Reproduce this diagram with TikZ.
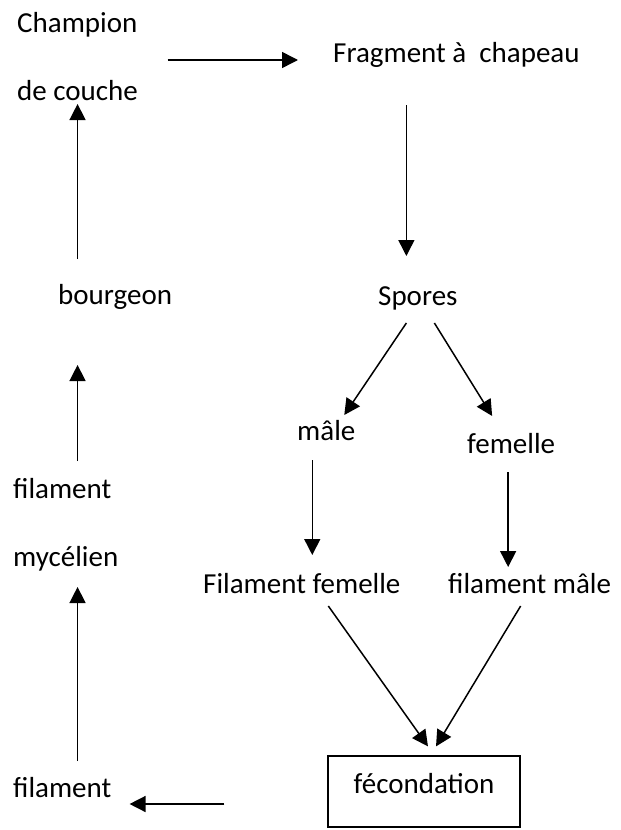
\documentclass[tikz,border=0pt]{standalone}
\usepackage{fontspec}
\setmainfont{Carlito}
\usepackage{tikz}
\usetikzlibrary{arrows.meta,positioning,calc}

\begin{document}
\begin{tikzpicture}[x=1pt,y=-1pt,
  mot/.style={inner sep=0pt,anchor=base west,font=\fontsize{29}{34}\selectfont},
  fleche/.style={line width=1.5pt,-{Triangle[length=16pt,width=16pt]}}]
\useasboundingbox (0,0) rectangle (621,830);
% colonne de gauche
\node[mot] (champion) at (17,32) {Champion};
\node[mot] (couche) at (17,100) {de couche};
\node[mot] (bourgeon) at (58,304) {bourgeon};
\node[mot] (filament1) at (13,498) {filament};
\node[mot] (mycelien) at (13,566) {mycélien};
\node[mot] (filament2) at (13,797) {filament};
% partie droite
\node[mot] (fragment) at (333,62) {Fragment à\ \ chapeau};
\node[mot] (spores) at (378,305) {Spores};
\node[mot] (male) at (297,440) {mâle};
\node[mot] (femelle) at (467,453) {femelle};
\node[mot] (filfem) at (203,593) {Filament femelle};
\node[mot] (filmale) at (448,593) {filament mâle};
\node[mot,anchor=center,draw,line width=1.2pt,minimum width=192pt,minimum height=71pt,
  text height=21pt,text depth=18pt] (fecond) at (424,791.5) {fécondation};

\draw[fleche] ($(champion.base east |- fragment.base)+(30,-2)$) -- ($(fragment.base west)+(-35,-2)$);
\draw[fleche] ($(spores.base |- fragment.base)+(-11.5,43)$) -- ($(spores.base)+(-11.5,-49)$);
\draw[fleche] ($(spores.base)+(-11.5,18)$) -- ($(male.base)+(18,-25)$);
\draw[fleche] ($(spores.base)+(16.5,18)$) -- ($(femelle.base)+(-19,-37)$);
\draw[fleche] ($(male.base)+(-14,20)$) -- ($(filfem.base -| male.base)+(-14,-38)$);
\draw[fleche] ($(femelle.base)+(-3,19)$) -- ($(filmale.base -| femelle.base)+(-3,-26)$);
\draw[fleche] ($(filfem.base)+(26.5,13)$) -- ($(fecond.north)+(4,-9)$);
\draw[fleche] ($(filmale.base)+(-9,13)$) -- ($(fecond.north)+(12,-9)$);
\draw[fleche] ($(fecond.west)+(-103,12.5)$) -- ($(filament2.base east)+(18,7)$);
\draw[fleche] ($(filament2.base -| couche.base)+(0,-36)$) -- ($(mycelien.base -| couche.base)+(0,21)$);
\draw[fleche] ($(filament1.base -| couche.base)+(0,-37)$) -- ($(bourgeon.base -| couche.base)+(0,61)$);
\draw[fleche] ($(bourgeon.base -| couche.base)+(0,-45)$) -- ($(couche.base)+(0,4)$);
\end{tikzpicture}
\end{document}
